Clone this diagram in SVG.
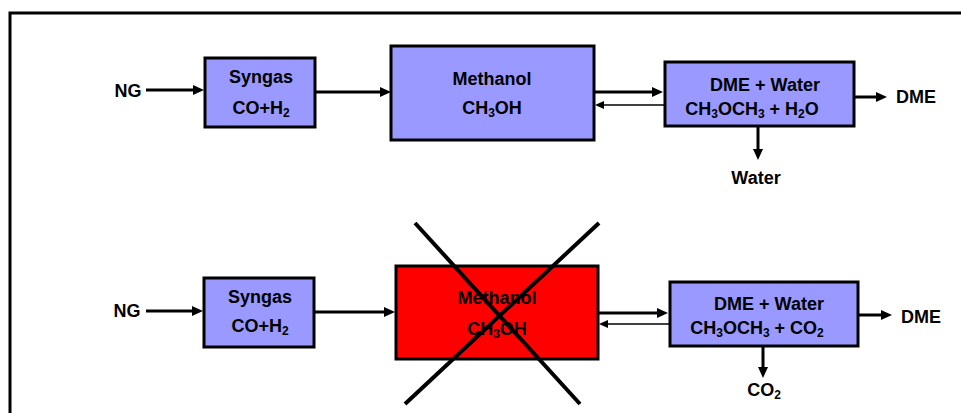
<svg xmlns="http://www.w3.org/2000/svg" width="961" height="413" viewBox="0 0 961 413">
<style>
.box{fill:#9999ff;stroke:#000;stroke-width:3}
.red{fill:#ff0000;stroke:#000;stroke-width:3}
.t{font-family:"Liberation Sans",Arial,sans-serif;font-weight:bold;font-size:18px;fill:#000;text-anchor:middle}
.s{font-size:12px}
.a{stroke:#000;stroke-width:3;fill:none;marker-end:url(#ah)}
.b{stroke:#000;stroke-width:1.5;fill:none;marker-end:url(#ahs)}
.x{stroke:#000;stroke-width:4}
</style>
<defs>
<marker id="ah" markerUnits="userSpaceOnUse" markerWidth="11" markerHeight="11" refX="0" refY="5" orient="auto" viewBox="0 0 11 10"><path d="M0,0 L11,5 L0,10 z" fill="#000"/></marker>
<marker id="ahs" markerUnits="userSpaceOnUse" markerWidth="9" markerHeight="8" refX="0" refY="4" orient="auto" viewBox="0 0 9 8"><path d="M0,0 L9,4 L0,8 z" fill="#000"/></marker>
</defs>
<rect width="961" height="413" fill="#fff"/>
<path d="M10,413 V13 H961" fill="none" stroke="#000" stroke-width="3"/>

<g id="connectors">
<path class="a" d="M146,90 H193"/>
<path class="a" d="M315,92 H380"/>
<path class="a" d="M594,92 H652"/>
<path class="b" d="M664,105 H604"/>
<path class="a" d="M854,97 H876"/>
<path class="a" d="M758,127 V149"/>

<path class="a" d="M146,311 H192"/>
<path class="a" d="M314,312 H384"/>
<path class="a" d="M598,313 H657"/>
<path class="b" d="M669,324 H608"/>
<path class="a" d="M858,315 H881"/>
<path class="a" d="M763,347 V367"/>
</g>

<g id="ng1"><text class="t" x="128" y="97">NG</text></g>
<g id="syngas1">
<rect class="box" x="205" y="58" width="110" height="69"/>
<text class="t" x="261" y="83">Syngas</text>
<text class="t" x="261" y="114">CO+H<tspan class="s" dy="3">2</tspan></text>
</g>
<g id="methanol1">
<rect class="box" x="391" y="46" width="203" height="94"/>
<text class="t" x="492" y="85">Methanol</text>
<text class="t" x="492" y="114">CH<tspan class="s" dy="3">3</tspan><tspan dy="-3">OH</tspan></text>
</g>
<g id="dme1">
<rect class="box" x="665" y="62" width="189" height="64"/>
<text class="t" x="765" y="91">DME + Water</text>
<text class="t" x="752" y="115">CH<tspan class="s" dy="3">3</tspan><tspan dy="-3">OCH</tspan><tspan class="s" dy="3">3</tspan><tspan dy="-3"> +  H</tspan><tspan class="s" dy="3">2</tspan><tspan dy="-3">O</tspan></text>
</g>
<g id="dmeout1"><text class="t" x="916" y="103">DME</text></g>
<g id="water1"><text class="t" x="756" y="184">Water</text></g>

<g id="ng2"><text class="t" x="127" y="317">NG</text></g>
<g id="syngas2">
<rect class="box" x="204" y="278" width="110" height="69"/>
<text class="t" x="260" y="303">Syngas</text>
<text class="t" x="260" y="332">CO+H<tspan class="s" dy="3">2</tspan></text>
</g>
<g id="methanol2">
<rect class="red" x="396" y="266" width="202" height="93"/>
<text class="t" x="497" y="304">Methanol</text>
<text class="t" x="497" y="335">CH<tspan class="s" dy="3">3</tspan><tspan dy="-3">OH</tspan></text>
<line class="x" x1="415" y1="223" x2="580" y2="404"/>
<line class="x" x1="599" y1="223" x2="405" y2="404"/>
</g>
<g id="dme2">
<rect class="box" x="670" y="282" width="188" height="64"/>
<text class="t" x="769" y="310">DME + Water</text>
<text class="t" x="757" y="334">CH<tspan class="s" dy="3">3</tspan><tspan dy="-3">OCH</tspan><tspan class="s" dy="3">3</tspan><tspan dy="-3"> + CO</tspan><tspan class="s" dy="3">2</tspan></text>
</g>
<g id="dmeout2"><text class="t" x="921" y="323">DME</text></g>
<g id="co2"><text class="t" x="764" y="396">CO<tspan class="s" dy="3">2</tspan></text></g>
</svg>
